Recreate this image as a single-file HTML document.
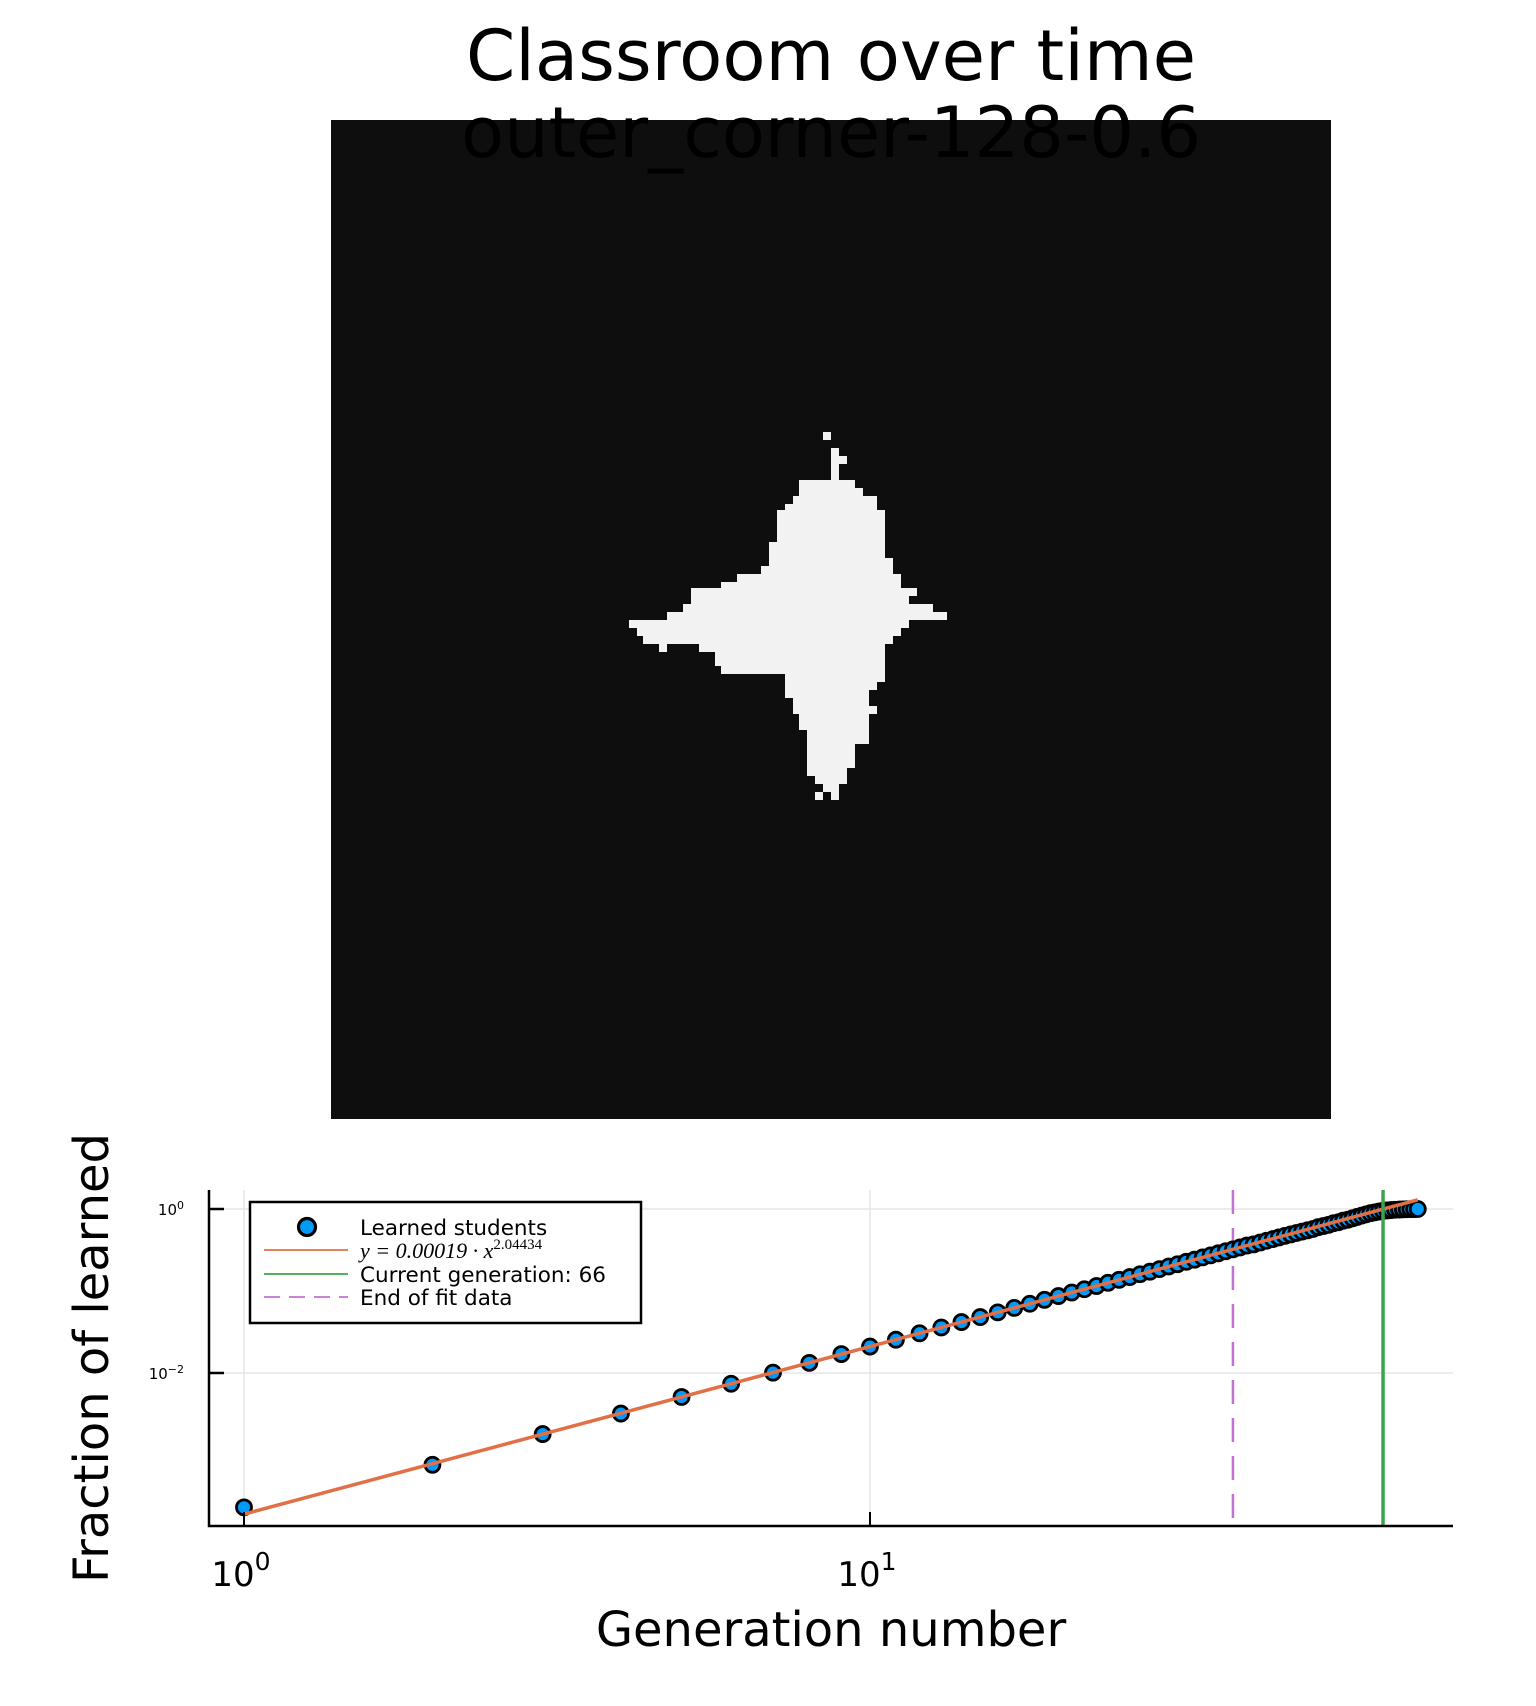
<!DOCTYPE html>
<html><head><meta charset="utf-8"><style>
html,body{margin:0;padding:0;background:#fff}
svg{display:block;font-family:"DejaVu Sans","Liberation Sans",sans-serif}
</style></head><body>
<svg id="fig" width="1536" height="1706" viewBox="0 0 1536 1706" xmlns="http://www.w3.org/2000/svg">
  <text x="831" y="80" font-size="70" text-anchor="middle" textLength="730" lengthAdjust="spacingAndGlyphs">Classroom over time</text>
  <rect x="331" y="120" width="1000" height="999" fill="#0e0e0e"/>
  <g transform="translate(620,410) scale(0.3333333)" fill="#f2f2f2">
    <polygon points="537,210 633,210 633,114 657,114 657,138 681,138 681,162 657,162 657,210 705,210 705,234 729,234 729,258 771,258 771,300 795,300 795,444 819,444 819,492 843,492 843,534 891,534 891,558 867,558 867,582 939,582 939,606 981,606 981,630 867,630 867,654 843,654 843,678 819,678 819,702 795,702 795,816 771,816 771,840 747,840 747,888 771,888 771,912 747,912 747,1002 705,1002 705,1074 681,1074 681,1122 657,1122 657,1170 633,1170 633,1146 609,1146 609,1122 585,1122 585,1170 609,1170 609,1146 585,1146 585,1098 561,1098 561,960 537,960 537,912 519,912 519,864 495,864 495,792 303,792 303,768 285,768 285,726 237,726 237,702 141,702 141,726 117,726 117,702 69,702 69,678 51,678 51,654 27,654 27,630 141,630 141,606 189,606 189,582 213,582 213,534 303,534 303,516 351,516 351,492 423,492 423,468 447,468 447,396 471,396 471,300 495,300 495,282 519,282 519,258 537,258"/>
    <rect x="609" y="66" width="24" height="24"/>
  </g>
  <text x="831" y="157" font-size="70" text-anchor="middle" textLength="740" lengthAdjust="spacingAndGlyphs">outer_corner-128-0.6</text>

  <g id="plot"></g>
</svg>
<script>
const generations = [];
for (let i = 1; i <= 75; i++) generations.push(i);
const fractionLearned = [0.00023,0.00076,0.0018,0.0032,0.0051,0.0074,0.0101,0.0133,0.017,0.021,0.0255,0.0305,0.0359,0.0418,0.0481,0.0549,0.0622,0.0699,0.0781,0.0867,0.0958,0.105,0.115,0.126,0.137,0.148,0.16,0.172,0.185,0.199,0.212,0.227,0.241,0.257,0.272,0.288,0.305,0.322,0.34,0.358,0.37,0.39,0.41,0.43,0.45,0.47,0.49,0.51,0.53,0.55,0.57,0.6,0.62,0.64,0.67,0.69,0.72,0.74,0.77,0.8,0.83,0.86,0.89,0.91,0.93,0.95,0.96,0.97,0.98,0.985,0.99,0.993,0.996,0.998,1.0];
const fitCoef = 0.00019;
const fitExp = 2.04434;
const fitRange = [1, 75];
const currentGeneration = 66;
const endOfFit = 38;
const xTickValues = [1, 10];
const xTickExps = ["0", "1"];
const yTickValues = [1, 0.01];
const yTickExps = ["0", "−2"];

const NS = "http://www.w3.org/2000/svg";
const L = 209, R = 1453, T = 1190, B = 1526;
const xs = v => 244 + Math.log10(v) * 626;
const ys = v => 1209 - Math.log10(v) * 82;
const g = document.getElementById('plot');
function mk(tag, attrs, parent) {
  const e = document.createElementNS(NS, tag);
  for (const k in attrs) e.setAttribute(k, attrs[k]);
  (parent || g).appendChild(e);
  return e;
}
xTickValues.forEach(v => {
  const e = mk('line', {x1: xs(v), x2: xs(v), y1: T, y2: B, stroke: '#e6e6e6', 'stroke-width': 1.5});
  
  
});
yTickValues.forEach(v => {
  const e = mk('line', {x1: L, x2: R, y1: ys(v), y2: ys(v), stroke: '#e6e6e6', 'stroke-width': 1.5});
  
  
});
let e = mk('line', {x1: xs(endOfFit), x2: xs(endOfFit), y1: T, y2: B, stroke: '#c271d2', 'stroke-width': 2.5, 'stroke-dasharray': '24,14'});


fractionLearned.forEach((v, i) => {
  const c = mk('circle', {cx: xs(generations[i]), cy: ys(v), r: 7.5, fill: '#009af9', stroke: '#000', 'stroke-width': 2.8});
  
  
});
const f = v => fitCoef * Math.pow(v, fitExp);
e = mk('line', {x1: xs(fitRange[0]), y1: ys(f(fitRange[0])), x2: xs(fitRange[1]), y2: ys(f(fitRange[1])), stroke: '#e26f46', 'stroke-width': 3.5});


e = mk('line', {x1: xs(currentGeneration), x2: xs(currentGeneration), y1: T, y2: B, stroke: '#3da44d', 'stroke-width': 3.5});


e = mk('path', {d: `M${L},${T} V${B} H${R}`, fill: 'none', stroke: '#000', 'stroke-width': 2.5});


xTickValues.forEach((v, i) => {
  const t = mk('line', {x1: xs(v), x2: xs(v), y1: B, y2: B - 14, stroke: '#000', 'stroke-width': 2});
  
  
  const lb = mk('text', {x: xs(v) - 3, y: 1586, 'font-size': 34, 'text-anchor': 'middle'});
  
  
  lb.textContent = '10';
  const sp = mk('tspan', {dy: -16, 'font-size': 25}, lb);
  sp.textContent = xTickExps[i];
});
yTickValues.forEach((v, i) => {
  const t = mk('line', {x1: L, x2: L + 15, y1: ys(v), y2: ys(v), stroke: '#000', 'stroke-width': 2.5});
  
  
  const lb = mk('text', {x: 184, y: ys(v) + 6, 'font-size': 15, 'text-anchor': 'end'});
  
  
  lb.textContent = '10';
  const sp = mk('tspan', {dy: -6, 'font-size': 11}, lb);
  sp.textContent = yTickExps[i];
});
</script>
<svg style="position:absolute;left:0;top:0" width="1536" height="1706" xmlns="http://www.w3.org/2000/svg">
  <g>
    <rect x="250" y="1202" width="391" height="121" fill="#fff" stroke="#000" stroke-width="2.5"/>
    <circle cx="307" cy="1227" r="8.5" fill="#009af9" stroke="#000" stroke-width="3.2"/>
    <text x="360" y="1235" font-size="21.5" font-family="DejaVu Sans, sans-serif">Learned students</text>
    <line x1="264" x2="348" y1="1250" y2="1250" stroke="#e26f46" stroke-width="1.8"/>
    <text x="360" y="1258" font-size="22" font-style="italic" font-family="Liberation Serif, serif">y = 0.00019 · x<tspan dy="-9" font-size="15" font-style="normal">2.04434</tspan></text>
    <line x1="264" x2="348" y1="1274" y2="1274" stroke="#3da44d" stroke-width="1.8"/>
    <text x="360" y="1282" font-size="21.5" font-family="DejaVu Sans, sans-serif">Current generation: 66</text>
    <line x1="264" x2="348" y1="1297" y2="1297" stroke="#c271d2" stroke-width="1.8" stroke-dasharray="16,9"/>
    <text x="360" y="1305" font-size="21.5" font-family="DejaVu Sans, sans-serif">End of fit data</text>
  </g>
  <text x="831" y="1646" font-size="48" text-anchor="middle" font-family="DejaVu Sans, sans-serif">Generation number</text>
  <text transform="translate(108,1358) rotate(-90)" font-size="48" text-anchor="middle" font-family="DejaVu Sans, sans-serif">Fraction of learned</text>
</svg>
</body></html>
